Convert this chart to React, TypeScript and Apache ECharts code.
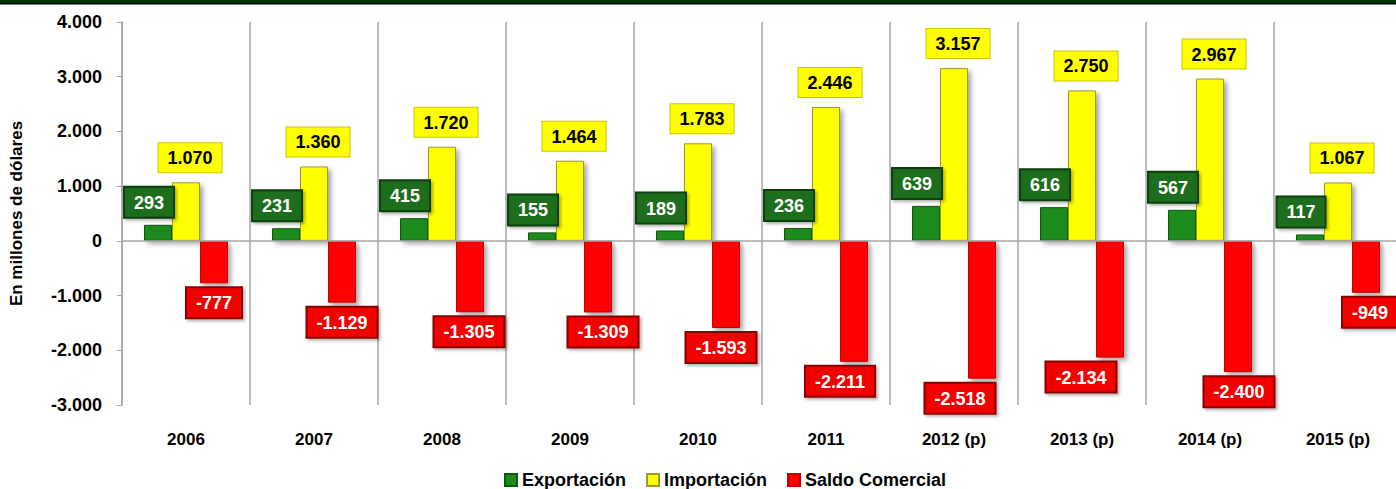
import React, { useEffect, useRef } from "react";
import * as echarts from "echarts";

const categories = ["2006", "2007", "2008", "2009", "2010", "2011", "2012 (p)", "2013 (p)", "2014 (p)", "2015 (p)"];
const exportacion = [293, 231, 415, 155, 189, 236, 639, 616, 567, 117];
const importacion = [1070, 1360, 1720, 1464, 1783, 2446, 3157, 2750, 2967, 1067];
const saldo = [-777, -1129, -1305, -1309, -1593, -2211, -2518, -2134, -2400, -949];
const yTicks = { min: -3000, max: 4000, interval: 1000 };
// horizontal nudges of the "Saldo Comercial" value boxes, as placed in the original
const saldoLabelNudge = [0, 0, -1, 5, -5, -14, -22, -29, 1, 4];

const FONT = "'Liberation Sans Narrow', 'Arial Narrow', 'Liberation Sans', Arial, sans-serif";

function fmt(v: number): string {
  const s = Math.abs(Math.round(v)).toString().replace(/\B(?=(\d{3})+(?!\d))/g, ".");
  return (v < 0 ? "-" : "") + s;
}

export default function App() {
  const ref = useRef<HTMLDivElement>(null);
  useEffect(() => {
    if (!ref.current) return;
    const chart = echarts.init(ref.current, null, { renderer: "svg" });
    const barShadow = {
      shadowColor: "rgba(0,0,0,0.35)",
      shadowBlur: 5,
      shadowOffsetX: 3,
      shadowOffsetY: 3,
    };
    const labelBase = {
      show: true,
      fontFamily: FONT,
      fontWeight: "bold",
      fontSize: 18,
      padding: [6, 9, 5, 9],
      formatter: (p: any) => fmt(p.value),
    };
    const boxShadow = {
      shadowColor: "rgba(0,0,0,0.3)",
      shadowBlur: 3,
      shadowOffsetX: 2,
      shadowOffsetY: 2,
    };
    chart.setOption({
      animation: false,
      textStyle: { fontFamily: FONT },
      graphic: [
        { type: "rect", shape: { x: 0, y: 0, width: 1410, height: 3 }, style: { fill: "#003300" } },
        { type: "rect", shape: { x: 0, y: 3, width: 1410, height: 1.5 }, style: { fill: "#000000" } },
      ],
      grid: { left: 122, right: 8, top: 22, bottom: 84 },
      legend: {
        left: 499,
        top: 466,
        itemWidth: 12,
        itemHeight: 12,
        itemGap: 20,
        icon: "rect",
        textStyle: { fontFamily: FONT, fontWeight: "bold", fontSize: 18, color: "#000" },
        data: ["Exportación", "Importación", "Saldo Comercial"],
      },
      xAxis: {
        type: "category",
        data: categories,
        position: "bottom",
        axisLine: { show: false, onZero: false },
        axisTick: { show: false },
        splitLine: { show: true, lineStyle: { color: "#a6a6a6", width: 1.5 } },
        axisLabel: { fontFamily: FONT, fontWeight: "bold", fontSize: 17, color: "#000", margin: 26 },
      },
      yAxis: {
        type: "value",
        min: yTicks.min,
        max: yTicks.max,
        interval: yTicks.interval,
        name: "En millones de dólares",
        nameLocation: "middle",
        nameGap: 97,
        nameTextStyle: { fontFamily: FONT, fontWeight: "bold", fontSize: 17, color: "#000" },
        axisLine: { show: true, lineStyle: { color: "#a6a6a6", width: 1.5 } },
        axisTick: { show: true, length: 5, lineStyle: { color: "#a6a6a6" } },
        splitLine: { show: false },
        axisLabel: {
          fontFamily: FONT,
          fontWeight: "bold",
          fontSize: 18,
          color: "#000",
          margin: 20,
          formatter: (v: number) => fmt(v),
        },
      },
      series: [
        {
          name: "Exportación",
          type: "bar",
          data: exportacion,
          barWidth: 28,
          barGap: "0%",
          itemStyle: { color: "#1a8a1a", borderColor: "#0d5a0d", borderWidth: 1, ...barShadow },
          label: {
            ...labelBase,
            position: "top",
            distance: 5,
            offset: [-9, -3],
            color: "#ffffff",
            backgroundColor: "#1c6e1c",
            borderColor: "#0b3f0b",
            borderWidth: 2,
            ...boxShadow,
          },
          markLine: {
            silent: true,
            symbol: "none",
            label: { show: false },
            lineStyle: { color: "#a6a6a6", width: 1.5, type: "solid" },
            data: [{ yAxis: 0 }],
          },
        },
        {
          name: "Importación",
          type: "bar",
          data: importacion,
          barWidth: 28,
          barGap: "0%",
          itemStyle: { color: "#ffff00", borderColor: "#9a9a2a", borderWidth: 1, ...barShadow },
          label: {
            ...labelBase,
            position: "top",
            distance: 7,
            offset: [4, -3],
            color: "#000000",
            backgroundColor: "#ffff00",
            borderColor: "#c8c800",
            borderWidth: 1,
          },
        },
        {
          name: "Saldo Comercial",
          type: "bar",
          data: saldo.map((v, i) => ({
            value: v,
            label: { offset: [saldoLabelNudge[i], 2] },
          })),
          barWidth: 28,
          barGap: "0%",
          itemStyle: { color: "#ff0000", borderColor: "#c00000", borderWidth: 1, ...barShadow },
          label: {
            ...labelBase,
            position: "bottom",
            distance: 3,
            color: "#ffffff",
            backgroundColor: "#f20000",
            borderColor: "#8a0000",
            borderWidth: 2,
            ...boxShadow,
          },
        },
      ],
    });
    return () => chart.dispose();
  }, []);
  return (
    <div style={{ position: "absolute", left: 0, top: 0, width: 1396, height: 489, overflow: "hidden", background: "#fff" }}>
      <div ref={ref} style={{ width: 1410, height: 489 }} />
    </div>
  );
}
